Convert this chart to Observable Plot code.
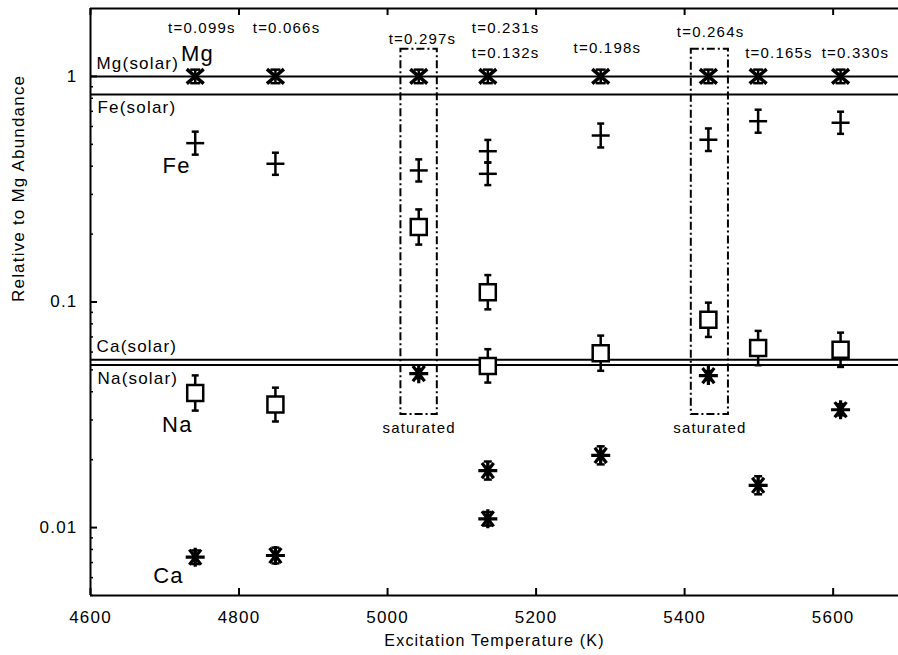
<!DOCTYPE html>
<html><head><meta charset="utf-8">
<script src="https://cdn.jsdelivr.net/npm/d3@7"></script>
<script src="https://cdn.jsdelivr.net/npm/@observablehq/plot@0.6"></script>
<style>
body{margin:0;background:#fff}
#chart svg text{letter-spacing:1.2px}
</style></head><body><div id="chart"></div>
<script>
// ---- data ----
const mgT   = [4741, 4849, 5042, 5135, 5287, 5432, 5499, 5610];
const mgVal = [1, 1, 1, 1, 1, 1, 1, 1];
const mgErr = [0.03, 0.03, 0.03, 0.03, 0.03, 0.03, 0.03, 0.03];

const feT   = [4741, 4849, 5042, 5135, 5135, 5287, 5432, 5499, 5610];
const feVal = [0.506, 0.41, 0.383, 0.466, 0.370, 0.547, 0.524, 0.633, 0.623];
const feErr = [0.051, 0.049, 0.049, 0.05, 0.05, 0.053, 0.05, 0.051, 0.049];

const naT   = [4741, 4849, 5042, 5135, 5135, 5287, 5432, 5499, 5610];
const naVal = [0.0395, 0.0351, 0.215, 0.1105, 0.0521, 0.0593, 0.0834, 0.0625, 0.0614];
const naErr = [0.078, 0.075, 0.078, 0.076, 0.074, 0.078, 0.076, 0.076, 0.076];

const caT   = [4741, 4849, 5042, 5135, 5135, 5287, 5432, 5499, 5610];
const caVal = [0.00739, 0.00752, 0.0481, 0.0179, 0.01094, 0.0209, 0.0472, 0.0154, 0.0333];
const caErr = [0.03, 0.035, 0.02, 0.04, 0.03, 0.04, 0.02, 0.04, 0.025];

const solarNames = ["Mg(solar)", "Fe(solar)", "Ca(solar)", "Na(solar)"];
const solarVal   = [1, 0.832, 0.0554, 0.0526];

const timeLabels = ["t=0.099s", "t=0.066s", "t=0.297s", "t=0.231s", "t=0.132s", "t=0.198s", "t=0.264s", "t=0.165s", "t=0.330s"];
const timeLabelT = [4750, 4864, 5047, 5159, 5159, 5296, 5435, 5527, 5630];
const timeLabelV = [1.64, 1.64, 1.46, 1.64, 1.27, 1.34, 1.57, 1.27, 1.27];

const elemNames = ["Mg", "Fe", "Na", "Ca"];
const elemT     = [4744, 4716, 4717, 4705];
const elemV     = [1.26, 0.40, 0.0286, 0.00613];

const satT1 = [5018, 5409];
const satT2 = [5067, 5459];
const satLo = [0.0317, 0.0317];
const satHi = [1.32, 1.32];
const satLabel = ["saturated", "saturated"];

const xTicks = [4600, 4800, 5000, 5200, 5400, 5600];
const yMajor = [0.01, 0.1, 1];
const yMinor = [0.005, 0.006, 0.007, 0.008, 0.009, 0.02, 0.03, 0.04, 0.05, 0.06, 0.07, 0.08, 0.09,
                0.2, 0.3, 0.4, 0.5, 0.6, 0.7, 0.8, 0.9];

// ---- custom symbols ----
const rad = s => Math.sqrt(s / Math.PI);
const hbar = {draw(c, s){const r = rad(s); c.moveTo(-r, 0); c.lineTo(r, 0);}};
const xmark = {draw(c, s){const r = rad(s), h = r * 0.85; c.moveTo(-r, -h); c.lineTo(r, h); c.moveTo(-r, h); c.lineTo(r, -h);}};
const star = {draw(c, s){const r = rad(s); c.moveTo(-r, 0); c.lineTo(r, 0); c.moveTo(0, -r); c.lineTo(0, r);
  const a = r * 0.62, b = r * 0.8; c.moveTo(-a, -b); c.lineTo(a, b); c.moveTo(-a, b); c.lineTo(a, -b);}};
const square = {draw(c, s){const r = rad(s); c.moveTo(-r, -r); c.lineTo(r, -r); c.lineTo(r, r); c.lineTo(-r, r); c.closePath();}};

function errMarks(T, V, E, capR, sw) {
  const lo = V.map((v, i) => v * Math.pow(10, -E[i]));
  const hi = V.map((v, i) => v * Math.pow(10, E[i]));
  return [
    Plot.ruleX(T, {x: T, y1: lo, y2: hi, stroke: "black", strokeWidth: sw}),
    Plot.dot(T, {x: T, y: lo, symbol: hbar, r: capR, stroke: "black", fill: "none", strokeWidth: sw}),
    Plot.dot(T, {x: T, y: hi, symbol: hbar, r: capR, stroke: "black", fill: "none", strokeWidth: sw})
  ];
}

const font = "'Liberation Sans', Arial, Helvetica, sans-serif";
const idx = a => a.map((_, i) => i);

const chart = Plot.plot({
  width: 898,
  height: 655,
  marginLeft: 90,
  marginRight: 0,
  marginTop: 8,
  marginBottom: 60,
  style: {fontFamily: font, background: "white", color: "black"},
  x: {domain: [4600, 5688]},
  y: {type: "log", domain: [0.005, 2]},
  marks: [
    // frame
    Plot.ruleX([4600], {stroke: "black", strokeWidth: 2}),
    Plot.ruleY([2, 0.005], {stroke: "black", strokeWidth: 2}),
    // ticks (inward)
    Plot.tickX(xTicks, {x: d => d, insetTop: 580, stroke: "black", strokeWidth: 2}),
    Plot.tickX(xTicks, {x: d => d, insetBottom: 580, stroke: "black", strokeWidth: 2}),
    Plot.tickY(yMajor, {y: d => d, insetRight: 801, stroke: "black", strokeWidth: 2}),
    Plot.tickY(yMinor, {y: d => d, insetRight: 805, stroke: "black", strokeWidth: 1.5}),
    // axis labels
    Plot.axisX({ticks: xTicks, tickSize: 0, tickPadding: 15, fontSize: 17, label: null, tickFormat: d => String(d)}),
    Plot.axisY({ticks: yMajor, tickSize: 0, tickPadding: 13, fontSize: 17, label: null, tickFormat: d => String(d)}),
    Plot.text(["Excitation Temperature (K)"], {frameAnchor: "bottom", dy: 50, fontSize: 16, text: d => d}),
    Plot.text(["Relative to Mg Abundance"], {frameAnchor: "left", dx: -72, rotate: -90, fontSize: 17, text: d => d}),
    // solar reference lines
    Plot.ruleY(solarVal, {y: solarVal, stroke: "black", strokeWidth: 2}),
    Plot.text(idx(solarNames).filter(i => i === 0 || i === 2), {text: i => solarNames[i], y: i => solarVal[i], frameAnchor: "left", dx: 6, dy: -13, textAnchor: "start", fontSize: 17}),
    Plot.text(idx(solarNames).filter(i => i === 1 || i === 3), {text: i => solarNames[i], y: i => solarVal[i], frameAnchor: "left", dx: 7, dy: 13.5, textAnchor: "start", fontSize: 17}),
    // saturated boxes
    Plot.rect(idx(satT1), {x1: satT1, x2: satT2, y1: satLo, y2: satHi, fill: "none", stroke: "black", strokeWidth: 2, strokeDasharray: "8,3,2,3"}),
    Plot.text(idx(satT1), {x: i => (satT1[i] + satT2[i]) / 2, y: satLo, text: satLabel, dy: 14, fontSize: 15}),
    // Mg
    ...errMarks(mgT, mgVal, mgErr, 5, 2.5),
    Plot.dot(mgT, {x: mgT, y: mgVal, symbol: xmark, r: 8.5, stroke: "black", fill: "none", strokeWidth: 3.5}),
    // Fe
    ...errMarks(feT, feVal, feErr, 3.5, 2.5),
    Plot.dot(feT, {x: feT, y: feVal, symbol: hbar, r: 9, stroke: "black", fill: "none", strokeWidth: 2.5}),
    // Na
    ...errMarks(naT, naVal, naErr, 3.5, 2.5),
    Plot.dot(naT, {x: naT, y: naVal, symbol: square, r: 8, stroke: "black", fill: "white", strokeWidth: 2.5}),
    // Ca
    ...errMarks(caT, caVal, caErr, 4, 2.5),
    Plot.dot(caT, {x: caT, y: caVal, symbol: star, r: 9.5, stroke: "black", fill: "none", strokeWidth: 3.2}),
    // annotations
    Plot.text(idx(timeLabels), {x: timeLabelT, y: timeLabelV, text: timeLabels, fontSize: 15}),
    Plot.text(idx(elemNames), {x: elemT, y: elemV, text: elemNames, fontSize: 22})
  ]
});
document.getElementById("chart").appendChild(chart);
</script>
</body></html>
